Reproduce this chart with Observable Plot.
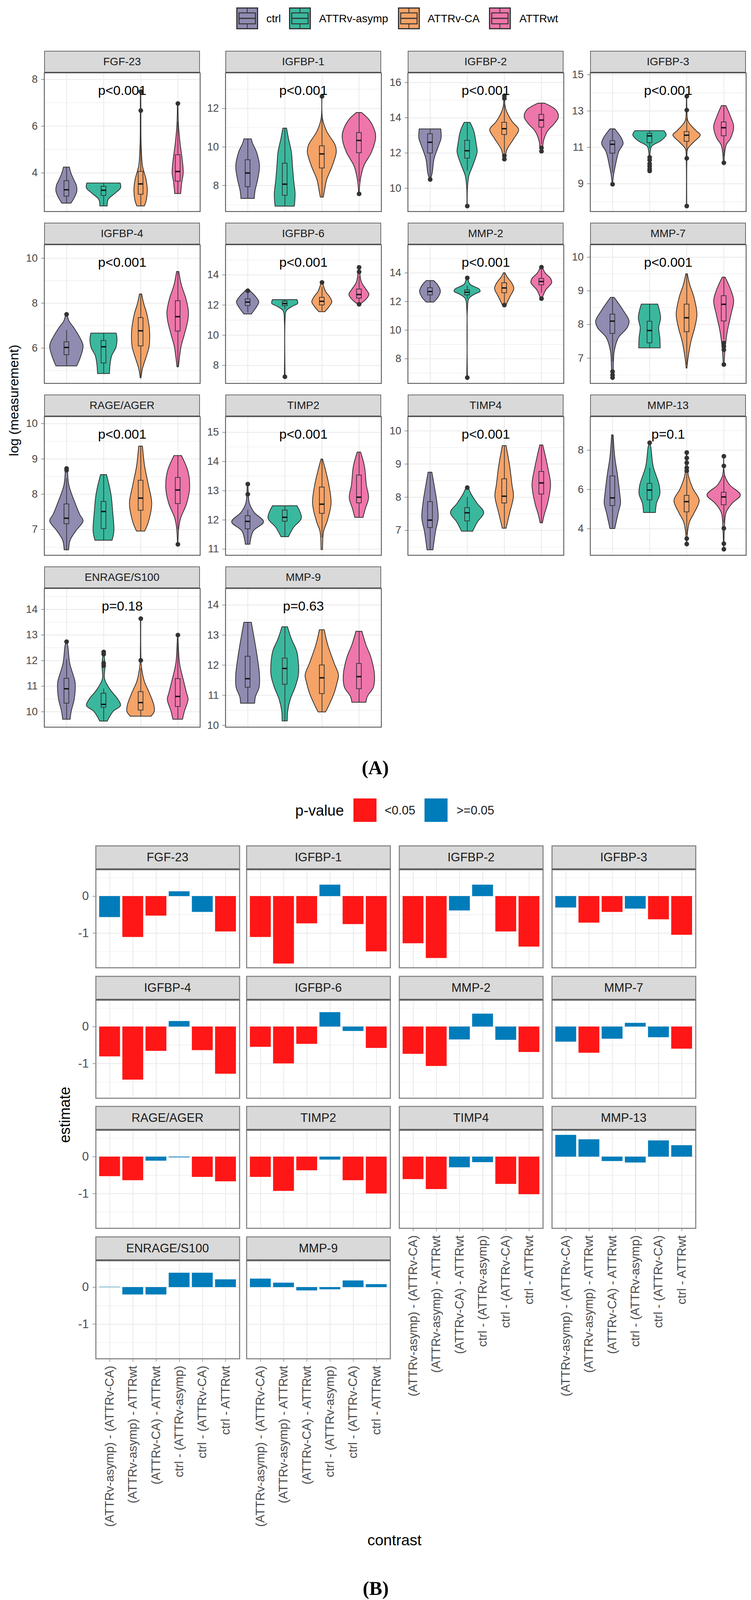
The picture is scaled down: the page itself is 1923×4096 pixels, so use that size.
<!DOCTYPE html>
<html><head><meta charset="utf-8">
<script src="https://cdn.jsdelivr.net/npm/d3@7"></script>
<script src="https://cdn.jsdelivr.net/npm/@observablehq/plot@0.6"></script>
<style>
body{margin:0;background:#fff;}
#root{position:relative;width:1923px;height:4096px;overflow:hidden;font-family:"Liberation Sans",Arial,sans-serif;background:#fff;}
.abs{position:absolute;}
.stripA{position:absolute;box-sizing:border-box;background:#d9d9d9;border:2px solid #6b6b6b;border-bottom:3px solid #4a4a4a;display:flex;align-items:center;justify-content:center;font-size:28px;color:#1a1a1a;}
.stripB{position:absolute;box-sizing:border-box;background:#d9d9d9;border:3px solid #8c8c8c;border-bottom:4px solid #5f5f5f;display:flex;align-items:center;justify-content:center;font-size:31px;color:#1a1a1a;}
.ctr{position:absolute;transform:translate(-50%,-50%);white-space:nowrap;}
.lft{position:absolute;transform:translate(0,-50%);white-space:nowrap;}
</style></head><body><div id="root"></div>
<script>
// ---------------- DATA ----------------
const groups = ["ctrl", "ATTRv-asymp", "ATTRv-CA", "ATTRwt"];
const groupColors = ["#8F8BB1", "#3AB89E", "#F5A367", "#EE76AA"];
const panelsA = ["FGF-23","IGFBP-1","IGFBP-2","IGFBP-3","IGFBP-4","IGFBP-6","MMP-2","MMP-7","RAGE/AGER","TIMP2","TIMP4","MMP-13","ENRAGE/S100","MMP-9"];
const pTextA = ["p<0.001","p<0.001","p<0.001","p<0.001","p<0.001","p<0.001","p<0.001","p<0.001","p<0.001","p<0.001","p<0.001","p=0.1","p=0.18","p=0.63"];
const yTicksA = [[4,6,8],[8,10,12],[10,12,14,16],[9,11,13,15],[6,8,10],[8,10,12,14],[8,10,12,14],[7,8,9,10],[7,8,9,10],[11,12,13,14,15],[7,8,9,10],[4,6,8],[10,11,12,13,14],[10,11,12,13,14]];
const yDomainA = [[2.35,8.28],[6.65,13.85],[8.68,16.55],[7.47,15.1],[4.43,10.6],[6.81,16.0],[6.28,15.97],[6.25,10.37],[6.27,10.2],[10.79,15.54],[6.25,10.43],[2.65,9.71],[9.4,14.82],[9.94,14.55]];

// violin outlines: per group, [value, half-width]
const v_FGF23 = [
  [[2.70,0.12],[2.87,0.19],[3.2,0.28],[3.45,0.27],[3.7,0.2],[4.0,0.12],[4.24,0.08]],
  [[2.58,0.10],[2.70,0.10],[2.87,0.13],[3.11,0.30],[3.35,0.46],[3.56,0.45]],
  [[2.58,0.10],[2.81,0.15],[3.23,0.18],[3.7,0.15],[4.3,0.05],[5.0,0.02],[5.5,0.01],[6.7,0.008],[7.48,0.005]],
  [[3.11,0.08],[3.59,0.11],[4.0,0.15],[4.6,0.12],[5.19,0.07],[6.07,0.02],[6.97,0.008]]];
const v_IGFBP1 = [
  [[7.32,0.18],[7.71,0.2],[8.29,0.27],[9.0,0.32],[9.73,0.24],[10.2,0.13],[10.41,0.1]],
  [[6.92,0.26],[7.57,0.28],[8.29,0.24],[9.0,0.21],[9.73,0.18],[10.45,0.1],[10.97,0.05]],
  [[7.39,0.04],[7.71,0.07],[8.29,0.13],[9.0,0.28],[9.73,0.39],[10.09,0.36],[10.81,0.13],[11.46,0.02],[12.63,0.005]],
  [[7.57,0.005],[8.29,0.04],[9.0,0.13],[9.73,0.34],[10.45,0.45],[10.81,0.43],[11.39,0.28],[11.78,0.07]]];
const v_IGFBP2 = [
  [[10.47,0.01],[10.87,0.06],[11.66,0.11],[12.45,0.24],[12.84,0.30],[13.36,0.29]],
  [[8.99,0.005],[10.0,0.01],[10.71,0.05],[11.26,0.15],[12.05,0.27],[12.45,0.25],[13.24,0.18],[13.73,0.08]],
  [[11.65,0.005],[11.82,0.03],[12.21,0.08],[12.84,0.27],[13.32,0.39],[13.79,0.21],[14.5,0.04],[15.25,0.005]],
  [[12.1,0.005],[12.21,0.03],[12.68,0.06],[13.24,0.17],[13.63,0.34],[14.03,0.46],[14.42,0.40],[14.82,0.09]]];
const v_IGFBP3 = [
  [[8.97,0.005],[9.44,0.03],[9.98,0.08],[10.75,0.17],[11.2,0.29],[11.51,0.24],[12.01,0.065]],
  [[9.67,0.01],[10.4,0.01],[10.75,0.02],[11.05,0.06],[11.36,0.31],[11.67,0.45],[11.91,0.39]],
  [[7.77,0.005],[10.4,0.01],[10.9,0.03],[11.28,0.19],[11.67,0.37],[11.9,0.26],[12.43,0.04],[13.05,0.01],[13.81,0.005]],
  [[10.15,0.01],[10.75,0.03],[11.13,0.07],[11.51,0.19],[12.13,0.27],[12.66,0.19],[13.29,0.06]]];
const v_IGFBP4 = [
  [[5.2,0.28],[5.6,0.38],[6.1,0.45],[6.5,0.35],[6.9,0.2],[7.2,0.07],[7.5,0.02]],
  [[4.86,0.16],[5.3,0.18],[5.65,0.22],[6.0,0.33],[6.23,0.36],[6.5,0.36],[6.66,0.34]],
  [[4.67,0.01],[5.0,0.04],[5.25,0.08],[5.7,0.17],[6.07,0.23],[6.8,0.24],[7.5,0.17],[8.0,0.08],[8.4,0.03]],
  [[5.16,0.02],[5.6,0.05],[6.06,0.09],[6.6,0.18],[7.2,0.27],[7.6,0.29],[8.2,0.22],[8.8,0.1],[9.4,0.03]]];
const v_IGFBP6 = [
  [[11.4,0.1],[11.8,0.22],[12.2,0.3],[12.6,0.2],[12.9,0.08],[13.0,0.04]],
  [[7.25,0.01],[11.0,0.01],[11.6,0.04],[11.9,0.2],[12.1,0.35],[12.35,0.33]],
  [[11.55,0.08],[11.9,0.2],[12.2,0.27],[12.5,0.22],[12.9,0.1],[13.3,0.04],[13.5,0.02]],
  [[12.1,0.06],[12.4,0.2],[12.7,0.27],[13.0,0.2],[13.5,0.07],[14.0,0.03],[14.5,0.01]]];
const v_MMP2 = [
  [[11.95,0.1],[12.3,0.22],[12.7,0.28],[13.1,0.22],[13.45,0.1]],
  [[6.68,0.01],[11.5,0.01],[12.2,0.05],[12.5,0.2],[12.7,0.35],[12.85,0.33],[13.2,0.08],[13.6,0.02]],
  [[11.75,0.05],[12.3,0.15],[12.9,0.26],[13.3,0.2],[13.7,0.08],[14.0,0.02]],
  [[12.2,0.02],[12.8,0.12],[13.3,0.28],[13.6,0.25],[14.0,0.1],[14.4,0.03]]];
const v_MMP7 = [
  [[6.45,0.02],[6.9,0.03],[7.2,0.05],[7.6,0.16],[7.9,0.4],[8.1,0.45],[8.4,0.3],[8.8,0.05]],
  [[7.3,0.29],[7.6,0.28],[7.9,0.25],[8.2,0.3],[8.6,0.22]],
  [[6.7,0.01],[7.0,0.04],[7.5,0.12],[7.9,0.22],[8.3,0.28],[8.8,0.2],[9.2,0.08],[9.5,0.02]],
  [[6.8,0.01],[7.3,0.04],[7.8,0.1],[8.3,0.2],[8.7,0.27],[9.0,0.2],[9.4,0.04]]];
const v_RAGE = [
  [[6.42,0.06],[6.69,0.1],[6.95,0.25],[7.24,0.45],[7.42,0.36],[7.73,0.24],[8.26,0.065],[8.73,0.03]],
  [[6.69,0.23],[6.95,0.28],[7.47,0.25],[8.0,0.2],[8.55,0.08]],
  [[6.95,0.11],[7.21,0.21],[7.73,0.3],[8.26,0.21],[8.78,0.11],[9.36,0.05]],
  [[6.58,0.005],[7.05,0.03],[7.32,0.08],[7.73,0.24],[8.15,0.32],[8.63,0.28],[9.09,0.1]]];
const v_TIMP2 = [
  [[11.16,0.06],[11.61,0.15],[11.93,0.43],[12.25,0.18],[12.56,0.05],[12.88,0.02],[13.23,0.01]],
  [[11.42,0.1],[11.74,0.24],[12.06,0.45],[12.48,0.33]],
  [[10.98,0.02],[11.61,0.05],[11.93,0.14],[12.56,0.25],[13.2,0.19],[13.7,0.1],[14.08,0.02]],
  [[12.08,0.11],[12.37,0.17],[12.75,0.26],[13.2,0.2],[13.83,0.15],[14.32,0.045]]];
const v_TIMP4 = [
  [[6.41,0.08],[6.97,0.15],[7.36,0.22],[7.81,0.19],[8.37,0.11],[8.75,0.05]],
  [[6.97,0.15],[7.25,0.28],[7.53,0.45],[7.81,0.27],[8.09,0.11],[8.29,0.03]],
  [[7.06,0.05],[7.53,0.15],[8.03,0.25],[8.37,0.21],[8.92,0.15],[9.55,0.05]],
  [[7.22,0.03],[7.47,0.08],[7.81,0.17],[8.37,0.25],[8.92,0.17],[9.57,0.04]]];
const v_MMP13 = [
  [[4.0,0.065],[4.82,0.16],[5.29,0.22],[5.76,0.2],[6.7,0.14],[7.64,0.065],[8.77,0.02]],
  [[4.82,0.16],[5.29,0.19],[5.76,0.28],[6.23,0.26],[7.17,0.1],[8.11,0.04],[8.38,0.01]],
  [[3.22,0.005],[3.88,0.03],[4.35,0.08],[4.82,0.21],[5.43,0.34],[6.04,0.17],[6.7,0.05],[7.4,0.02],[7.88,0.005]],
  [[2.96,0.005],[4.0,0.02],[4.82,0.065],[5.29,0.23],[5.71,0.45],[6.23,0.16],[6.7,0.03],[7.69,0.005]]];
const v_ENRAGE = [
  [[9.70,0.1],[10.01,0.13],[10.48,0.21],[10.95,0.24],[11.19,0.23],[11.89,0.09],[12.55,0.04],[12.74,0.01]],
  [[9.63,0.1],[10.01,0.26],[10.24,0.46],[10.48,0.39],[10.86,0.18],[11.28,0.03],[11.8,0.04],[12.34,0.01]],
  [[9.82,0.28],[10.01,0.37],[10.24,0.36],[10.72,0.24],[11.19,0.1],[11.8,0.02],[12.5,0.005],[13.64,0.005]],
  [[9.70,0.13],[10.01,0.18],[10.48,0.28],[10.72,0.24],[11.19,0.16],[11.89,0.05],[12.84,0.01],[13.0,0.005]]];
const v_MMP9 = [
  [[10.73,0.19],[10.94,0.21],[11.26,0.31],[11.67,0.32],[12.27,0.26],[12.87,0.18],[13.42,0.1]],
  [[10.14,0.07],[10.46,0.08],[10.86,0.15],[11.26,0.28],[11.67,0.37],[12.07,0.37],[12.47,0.32],[12.87,0.18],[13.27,0.075]],
  [[10.44,0.1],[10.66,0.19],[11.06,0.33],[11.46,0.42],[11.67,0.45],[12.07,0.33],[12.67,0.16],[13.17,0.065]],
  [[10.76,0.19],[10.96,0.23],[11.26,0.39],[11.67,0.42],[12.27,0.32],[12.67,0.19],[13.12,0.08]]];

// box stats per group: [lower whisker, q1, median, q3, upper whisker]
const b_FGF23 = [[2.70,3.0,3.28,3.66,4.24],[2.58,3.03,3.26,3.42,3.56],[2.58,3.08,3.53,4.06,5.5],[3.11,3.64,4.06,4.77,6.2]];
const b_IGFBP1 = [[7.32,7.93,8.65,9.33,10.41],[6.92,7.48,8.07,9.15,10.97],[7.39,8.90,9.64,10.05,11.5],[8.2,9.69,10.34,10.74,11.78]];
const b_IGFBP2 = [[10.47,11.99,12.61,13.08,13.36],[11.0,11.70,12.13,12.71,13.73],[12.0,13.04,13.38,13.73,14.75],[12.5,13.46,13.87,14.18,14.82]];
const b_IGFBP3 = [[9.6,10.67,11.17,11.36,12.01],[10.95,11.25,11.63,11.76,11.91],[10.8,11.32,11.67,11.86,12.6],[10.5,11.63,12.08,12.39,13.29]];
const b_IGFBP4 = [[5.2,5.7,6.03,6.27,6.8],[4.86,5.33,6.06,6.33,6.66],[4.67,6.09,6.77,7.35,8.4],[5.16,6.75,7.4,8.1,9.4]];
const b_IGFBP6 = [[11.5,11.95,12.2,12.4,12.9],[11.7,11.95,12.1,12.25,12.35],[11.6,12.0,12.25,12.5,13.2],[12.1,12.45,12.7,13.05,13.9]];
const b_MMP2 = [[11.95,12.45,12.7,12.95,13.45],[12.2,12.45,12.65,12.8,13.1],[11.9,12.6,12.95,13.3,14.0],[12.6,13.15,13.4,13.6,14.2]];
const b_MMP7 = [[6.9,7.73,8.1,8.3,8.8],[7.3,7.45,7.82,8.09,8.6],[6.8,7.78,8.2,8.6,9.5],[7.55,8.1,8.6,8.85,9.4]];
const b_RAGE = [[6.42,7.16,7.32,7.72,8.45],[6.69,7.02,7.51,7.79,8.55],[6.95,7.54,7.89,8.39,9.36],[7.0,7.73,8.12,8.47,9.09]];
const b_TIMP2 = [[11.16,11.69,11.95,12.14,12.35],[11.42,11.95,12.09,12.33,12.48],[11.4,12.22,12.54,13.12,14.08],[12.08,12.58,12.78,13.53,14.32]];
const b_TIMP4 = [[6.41,7.08,7.31,7.86,8.75],[6.97,7.28,7.53,7.68,8.0],[7.06,7.82,8.03,8.55,9.55],[7.22,8.09,8.43,8.77,9.57]];
const b_MMP13 = [[4.0,5.17,5.57,6.68,8.77],[4.82,5.46,5.97,6.30,7.1],[3.7,4.85,5.38,5.69,6.8],[4.3,5.21,5.62,5.85,6.7]];
const b_ENRAGE = [[9.70,10.33,10.9,11.3,12.05],[9.63,10.17,10.29,10.72,10.9],[9.82,10.06,10.36,10.78,11.7],[9.7,10.2,10.6,11.29,12.7]];
const b_MMP9 = [[10.73,11.26,11.55,12.29,13.42],[10.14,11.36,11.89,12.23,13.27],[10.44,11.05,11.58,12.0,13.17],[10.76,11.21,11.62,12.05,13.12]];

// outliers per group
const o_FGF23 = [[],[],[6.67,7.48],[6.97]];
const o_IGFBP1 = [[],[],[12.63],[7.57]];
const o_IGFBP2 = [[10.5],[8.99],[15.25,15.1,11.85,11.65],[12.3,12.1]];
const o_IGFBP3 = [[8.97],[10.45,10.3,10.1,9.95,9.8,9.7],[13.81,13.05,10.4,7.77],[10.15]];
const o_IGFBP4 = [[7.5],[],[],[]];
const o_IGFBP6 = [[12.95],[7.25],[13.5],[14.5,14.2,12.05]];
const o_MMP2 = [[],[6.68,13.65],[11.75],[14.4,12.2]];
const o_MMP7 = [[6.6,6.5,6.42],[],[],[7.45,7.35,7.25,6.81]];
const o_RAGE = [[8.73,8.68],[],[],[6.58]];
const o_TIMP2 = [[13.23,12.88],[],[],[]];
const o_TIMP4 = [[],[8.29],[],[]];
const o_MMP13 = [[],[8.38],[7.88,7.6,7.36,7.1,6.95,3.5,3.22],[7.69,7.2,4.02,3.24,2.96]];
const o_ENRAGE = [[12.74],[12.34,12.25,11.9,11.8],[13.64,12.01],[13.0]];
const o_MMP9 = [[],[],[],[]];

// Panel B
const contrasts = ["(ATTRv-asymp) - (ATTRv-CA)","(ATTRv-asymp) - ATTRwt","(ATTRv-CA) - ATTRwt","ctrl - (ATTRv-asymp)","ctrl - (ATTRv-CA)","ctrl - ATTRwt"];
const pClasses = ["<0.05", ">=0.05"];
const pColors = ["#FF1616", "#007CBA"];
const yTicksB = [-1, 0];
const yDomainB = [-1.94, 0.72];
const e_FGF23 = [-0.57,-1.11,-0.53,0.13,-0.43,-0.96];   const s_FGF23 = [0,1,1,0,0,1];
const e_IGFBP1 = [-1.11,-1.83,-0.74,0.31,-0.76,-1.50];  const s_IGFBP1 = [1,1,1,0,1,1];
const e_IGFBP2 = [-1.28,-1.68,-0.39,0.31,-0.96,-1.37];  const s_IGFBP2 = [1,1,0,0,1,1];
const e_IGFBP3 = [-0.31,-0.72,-0.43,-0.34,-0.63,-1.05]; const s_IGFBP3 = [0,1,1,0,1,1];
const e_IGFBP4 = [-0.81,-1.44,-0.66,0.15,-0.64,-1.28];  const s_IGFBP4 = [1,1,1,0,1,1];
const e_IGFBP6 = [-0.55,-1.0,-0.47,0.39,-0.12,-0.58];   const s_IGFBP6 = [1,1,1,0,0,1];
const e_MMP2 = [-0.74,-1.07,-0.35,0.35,-0.36,-0.69];    const s_MMP2 = [1,1,0,0,0,1];
const e_MMP7 = [-0.41,-0.71,-0.33,0.10,-0.29,-0.60];    const s_MMP7 = [0,1,0,0,0,1];
const e_RAGE = [-0.53,-0.64,-0.11,-0.02,-0.55,-0.67];   const s_RAGE = [1,1,0,0,1,1];
const e_TIMP2 = [-0.55,-0.93,-0.37,-0.08,-0.64,-1.0];   const s_TIMP2 = [1,1,1,0,1,1];
const e_TIMP4 = [-0.61,-0.88,-0.29,-0.15,-0.74,-1.02];  const s_TIMP4 = [1,1,0,0,1,1];
const e_MMP13 = [0.59,0.47,-0.12,-0.16,0.44,0.31];      const s_MMP13 = [0,0,0,0,0,0];
const e_ENRAGE = [0.01,-0.20,-0.20,0.39,0.39,0.21];     const s_ENRAGE = [0,0,0,0,0,0];
const e_MMP9 = [0.23,0.12,-0.09,-0.06,0.18,0.08];       const s_MMP9 = [0,0,0,0,0,0];

const violinShapes = [v_FGF23,v_IGFBP1,v_IGFBP2,v_IGFBP3,v_IGFBP4,v_IGFBP6,v_MMP2,v_MMP7,v_RAGE,v_TIMP2,v_TIMP4,v_MMP13,v_ENRAGE,v_MMP9];
const boxStats = [b_FGF23,b_IGFBP1,b_IGFBP2,b_IGFBP3,b_IGFBP4,b_IGFBP6,b_MMP2,b_MMP7,b_RAGE,b_TIMP2,b_TIMP4,b_MMP13,b_ENRAGE,b_MMP9];
const outliers = [o_FGF23,o_IGFBP1,o_IGFBP2,o_IGFBP3,o_IGFBP4,o_IGFBP6,o_MMP2,o_MMP7,o_RAGE,o_TIMP2,o_TIMP4,o_MMP13,o_ENRAGE,o_MMP9];
const estimatesB = [e_FGF23,e_IGFBP1,e_IGFBP2,e_IGFBP3,e_IGFBP4,e_IGFBP6,e_MMP2,e_MMP7,e_RAGE,e_TIMP2,e_TIMP4,e_MMP13,e_ENRAGE,e_MMP9];
const sigB = [s_FGF23,s_IGFBP1,s_IGFBP2,s_IGFBP3,s_IGFBP4,s_IGFBP6,s_MMP2,s_MMP7,s_RAGE,s_TIMP2,s_TIMP4,s_MMP13,s_ENRAGE,s_MMP9];

// ---------------- LAYOUT ----------------
const root = document.getElementById("root");
const FONT = "'Liberation Sans', Arial, sans-serif";
const GRID = "#ebebeb";

function addText(txt, x, y, size, opts = {}) {
  const d = document.createElement("div");
  d.className = opts.cls || "ctr";
  d.textContent = txt;
  d.style.left = x + "px"; d.style.top = y + "px";
  d.style.fontSize = size + "px";
  d.style.color = opts.color || "#000";
  if (opts.family) d.style.fontFamily = opts.family;
  if (opts.weight) d.style.fontWeight = opts.weight;
  if (opts.rotate) d.style.transform = "translate(-50%,-50%) rotate(-90deg)";
  root.appendChild(d);
  return d;
}
function addAbs(el, x, y) {
  const w = document.createElement("div");
  w.className = "abs"; w.style.left = x + "px"; w.style.top = y + "px";
  w.appendChild(el); root.appendChild(w);
}
function minorOf(ticks, dom) {
  const step = ticks[1] - ticks[0];
  const out = [];
  const all = [ticks[0] - step / 2, ...ticks.map(t => t + step / 2)];
  for (const t of all) if (t > dom[0] && t < dom[1]) out.push(t);
  return out;
}

// ---- Legend A ----
const keyXA = [605, 740, 1019, 1252], textXA = [682, 817, 1095, 1330];
groups.forEach((g, i) => {
  const ns = "http://www.w3.org/2000/svg";
  const s = document.createElementNS(ns, "svg");
  s.setAttribute("width", 56); s.setAttribute("height", 56);
  s.innerHTML = `<rect x="1.5" y="1.5" width="53" height="53" fill="${groupColors[i]}" stroke="#333" stroke-width="3"/>
    <line x1="28" y1="3" x2="28" y2="14" stroke="#333" stroke-width="2"/>
    <line x1="28" y1="42" x2="28" y2="53" stroke="#333" stroke-width="2"/>
    <rect x="7" y="14" width="42" height="28" fill="${groupColors[i]}" stroke="#333" stroke-width="2.5"/>
    <line x1="7" y1="28" x2="49" y2="28" stroke="#333" stroke-width="3"/>`;
  addAbs(s, keyXA[i], 19);
  addText(g, textXA[i], 48, 28, {cls: "lft", color: "#000"});
});

// ---- Panels A ----
const W_A = 399, H_A = 355, STRIP_A = 56;
const colLeftA = [113, 577, 1044, 1511];
const rowTopA = [130, 570, 1010, 1450];
const ML_A = 80, MR_A = 10, MT_A = 10, MB_A = 10;

function violinPanel(i) {
  const dom = yDomainA[i], ticks = yTicksA[i];
  const areaData = violinShapes[i].flatMap((s, g) => s.map(([v, hw]) => ({g: g + 1, grp: groups[g], v, hw})));
  const boxData = boxStats[i].map(([lo, q1, med, q3, hi], g) => ({g: g + 1, grp: groups[g], lo, q1, med, q3, hi}));
  const outData = outliers[i].flatMap((o, g) => o.map(v => ({g: g + 1, v})));
  const bw = 0.065;
  return Plot.plot({
    width: ML_A + W_A + MR_A, height: MT_A + H_A + MB_A,
    marginLeft: ML_A, marginRight: MR_A, marginTop: MT_A, marginBottom: MB_A,
    style: {background: "transparent", fontFamily: FONT, fontSize: "27px", color: "#474747", overflow: "visible"},
    x: {domain: [0.4, 4.6], axis: null},
    y: {domain: yDomainA[i], ticks: ticks, tickSize: 8, tickPadding: 9, tickFormat: d => String(d), label: null},
    color: {domain: groups, range: groupColors},
    marks: [
      Plot.ruleY(minorOf(ticks, dom), {stroke: GRID, strokeWidth: 1.2}),
      Plot.ruleY(ticks, {stroke: GRID, strokeWidth: 2.2}),
      Plot.ruleX([1, 2, 3, 4], {stroke: GRID, strokeWidth: 2.2}),
      Plot.areaX(areaData, {y: "v", x1: d => d.g - d.hw, x2: d => d.g + d.hw, z: "grp", fill: "grp", stroke: "#333", strokeWidth: 2, curve: "catmull-rom"}),
      Plot.ruleX(boxData, {x: "g", y1: "q3", y2: "hi", stroke: "#333", strokeWidth: 1.8}),
      Plot.ruleX(boxData, {x: "g", y1: "lo", y2: "q1", stroke: "#333", strokeWidth: 1.8}),
      Plot.rect(boxData, {x1: d => d.g - bw, x2: d => d.g + bw, y1: "q1", y2: "q3", fill: "grp", stroke: "#333", strokeWidth: 1.8}),
      Plot.ruleY(boxData, {y: "med", x1: d => d.g - bw, x2: d => d.g + bw, stroke: "#111", strokeWidth: 3.5}),
      Plot.dot(outData, {x: "g", y: "v", r: 6, fill: "#333", stroke: "none"}),
      Plot.text([pTextA[i]], {text: d => d, frameAnchor: "top", dy: 32, fontSize: 34, fill: "#000"}),
      Plot.frame({stroke: "#444", strokeWidth: 2})
    ]
  });
}

panelsA.forEach((name, i) => {
  const c = i % 4, r = Math.floor(i / 4);
  const left = colLeftA[c], top = rowTopA[r];
  addAbs(violinPanel(i), left - ML_A, top + STRIP_A - MT_A);
  const strip = document.createElement("div");
  strip.className = "stripA"; strip.textContent = name;
  strip.style.left = left + "px"; strip.style.top = top + "px";
  strip.style.width = W_A + "px"; strip.style.height = (STRIP_A + 1) + "px";
  root.appendChild(strip);
});
addText("log (measurement)", 35, 1025, 34, {rotate: true, color: "#000"});
addText("(A)", 961, 1965, 50, {family: "'Liberation Serif', 'Times New Roman', serif", weight: "bold"});

// ---- Legend B ----
addText("p-value", 756, 2075, 38, {cls: "lft"});
[905, 1087].forEach((x, k) => {
  const d = document.createElement("div");
  d.className = "abs"; d.style.left = x + "px"; d.style.top = "2044px";
  d.style.width = "59px"; d.style.height = "60px"; d.style.background = pColors[k];
  root.appendChild(d);
});
addText(pClasses[0], 985, 2075, 31, {cls: "lft", color: "#1a1a1a"});
addText(pClasses[1], 1169, 2075, 31, {cls: "lft", color: "#1a1a1a"});

// ---- Panels B ----
const W_B = 368, H_B = 251, STRIP_B = 62;
const colLeftB = [245, 631, 1022, 1413];
const rowTopB = [2164, 2498, 2831, 3165];
const ML_B = 70, MR_B = 10, MT_B = 10;

function barPanel(i, showY, showX) {
  const data = contrasts.map((c, k) => ({k: k + 1, contrast: c, estimate: estimatesB[i][k], p: sigB[i][k] ? pClasses[0] : pClasses[1]}));
  const MB = showX ? 470 : 10;
  return Plot.plot({
    width: ML_B + W_B + MR_B, height: MT_B + H_B + MB,
    marginLeft: ML_B, marginRight: MR_B, marginTop: MT_B, marginBottom: MB,
    style: {background: "transparent", fontFamily: FONT, fontSize: "31px", color: "#4d4d4d", overflow: "visible"},
    x: {domain: [0.4, 6.6], axis: showX ? "bottom" : null, ticks: [1, 2, 3, 4, 5, 6], tickFormat: d => contrasts[d - 1], tickRotate: -90, tickSize: 8, tickPadding: 10, label: null},
    y: {domain: yDomainB, axis: showY ? "left" : null, ticks: yTicksB, tickSize: 8, tickPadding: 10, tickFormat: d => String(d), label: null},
    color: {domain: pClasses, range: pColors},
    marks: [
      Plot.ruleY(minorOf(yTicksB, yDomainB), {stroke: GRID, strokeWidth: 1.2}),
      Plot.ruleY(yTicksB, {stroke: GRID, strokeWidth: 2.2}),
      Plot.ruleX([1, 2, 3, 4, 5, 6], {stroke: GRID, strokeWidth: 2.2}),
      Plot.rect(data, {x1: d => d.k - 0.45, x2: d => d.k + 0.45, y1: () => 0, y2: "estimate", fill: "p"}),
      Plot.frame({stroke: "#8c8c8c", strokeWidth: 3})
    ]
  });
}

panelsA.forEach((name, i) => {
  const c = i % 4, r = Math.floor(i / 4);
  const left = colLeftB[c], top = rowTopB[r];
  const showX = (r === 3) || (r === 2 && c >= 2);
  addAbs(barPanel(i, c === 0, showX), left - ML_B, top + STRIP_B - MT_B);
  const strip = document.createElement("div");
  strip.className = "stripB"; strip.textContent = name;
  strip.style.left = (left - 1.5) + "px"; strip.style.top = top + "px";
  strip.style.width = (W_B + 3) + "px"; strip.style.height = (STRIP_B + 1) + "px";
  root.appendChild(strip);
});
addText("estimate", 166, 2854, 38, {rotate: true});
addText("contrast", 1010, 3943, 39);
addText("(B)", 962, 4066, 50, {family: "'Liberation Serif', 'Times New Roman', serif", weight: "bold"});
</script></body></html>
